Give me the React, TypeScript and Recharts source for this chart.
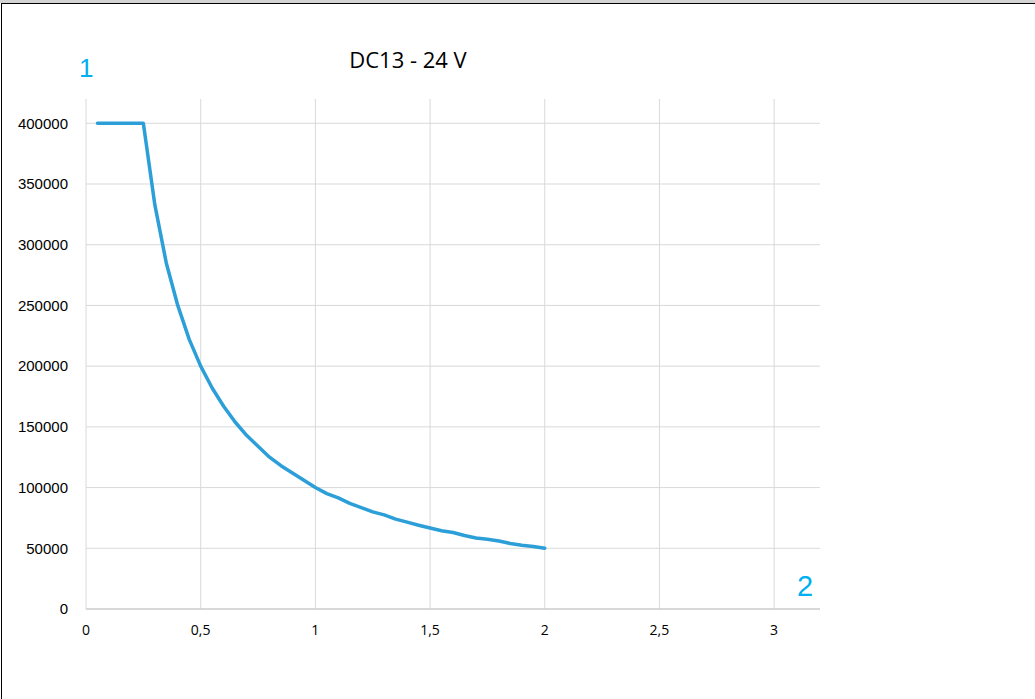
import { LineChart, Line, XAxis, YAxis, CartesianGrid } from 'recharts';

// Current (A) along the curve
const current = [
  0.05, 0.1, 0.15, 0.2, 0.25, 0.3, 0.35, 0.4, 0.45, 0.5,
  0.55, 0.6, 0.65, 0.7, 0.75, 0.8, 0.85, 0.9, 0.95, 1.0,
  1.05, 1.1, 1.15, 1.2, 1.25, 1.3, 1.35, 1.4, 1.45, 1.5,
  1.55, 1.6, 1.65, 1.7, 1.75, 1.8, 1.85, 1.9, 1.95, 2.0,
];

// Operations
const operations = [
  400000, 400000, 400000, 400000, 400000, 333000, 285000, 250000, 222000, 200000,
  182000, 167000, 154000, 143000, 134000, 125000, 118000, 112000, 106000, 100000,
  95000, 91500, 87000, 83500, 80000, 77500, 74000, 71500, 69000, 66700,
  64500, 63000, 60500, 58500, 57500, 56000, 54000, 52500, 51500, 50000,
];

const xTicks = [0, 0.5, 1, 1.5, 2, 2.5, 3];
const yTicks = [0, 50000, 100000, 150000, 200000, 250000, 300000, 350000, 400000];

const title = 'DC13 - 24 V';

const data = current.map((x, i) => ({ x, ops: operations[i] }));

const LINE_BLUE = '#2c9fd9';
const LABEL_BLUE = '#00b0f0';

export default function App() {
  return (
    <div style={{ position: 'absolute', top: 0, left: 0, width: 1035, height: 699, background: '#fff', overflow: 'hidden' }}>
      {/* window frame */}
      <div style={{ position: 'absolute', top: 0, left: 0, width: 1035, height: 3, background: '#d4d4d4' }} />
      <div style={{ position: 'absolute', top: 3, left: 1, width: 1034, height: 696, borderTop: '1.5px solid #000', borderLeft: '1.5px solid #000' }} />

      <div style={{ position: 'absolute', top: 0, left: 0 }}>
        <LineChart
          width={1035}
          height={699}
          data={data}
          margin={{ top: 99, right: 215, bottom: 60, left: 0 }}
        >
          <CartesianGrid stroke="#d9d9d9" strokeWidth={1} syncWithTicks />
          <XAxis
            dataKey="x"
            type="number"
            domain={[0, 3.2]}
            ticks={xTicks}
            height={30}
            tickLine={false}
            tickMargin={10}
            axisLine={{ stroke: '#c4c4c4' }}
            tick={{ fill: '#000', fontSize: 14, fontFamily: 'Open Sans' }}
            tickFormatter={(v: number) => String(v).replace('.', ',')}
          />
          <YAxis
            type="number"
            domain={[0, 420000]}
            ticks={yTicks}
            width={86}
            tickLine={false}
            axisLine={false}
            tickMargin={12}
            tick={{ fill: '#000', fontSize: 15, fontFamily: 'Liberation Sans' }}
          />
          <Line
            dataKey="ops"
            type="linear"
            stroke={LINE_BLUE}
            strokeWidth={3.5}
            strokeLinecap="round"
            strokeLinejoin="round"
            dot={false}
            isAnimationActive={false}
          />
        </LineChart>
      </div>

      <div style={{ position: 'absolute', left: 334, top: 44, width: 148, textAlign: 'center', fontFamily: 'Open Sans', fontSize: 22, color: '#000', lineHeight: '30px' }}>
        {title}
      </div>
      <div style={{ position: 'absolute', left: 79, top: 53, fontFamily: 'Liberation Sans', fontSize: 26, color: LABEL_BLUE, lineHeight: '30px' }}>
        1
      </div>
      <div style={{ position: 'absolute', left: 797, top: 570, fontFamily: 'Liberation Sans', fontSize: 29, color: LABEL_BLUE, lineHeight: '32px' }}>
        2
      </div>
    </div>
  );
}
